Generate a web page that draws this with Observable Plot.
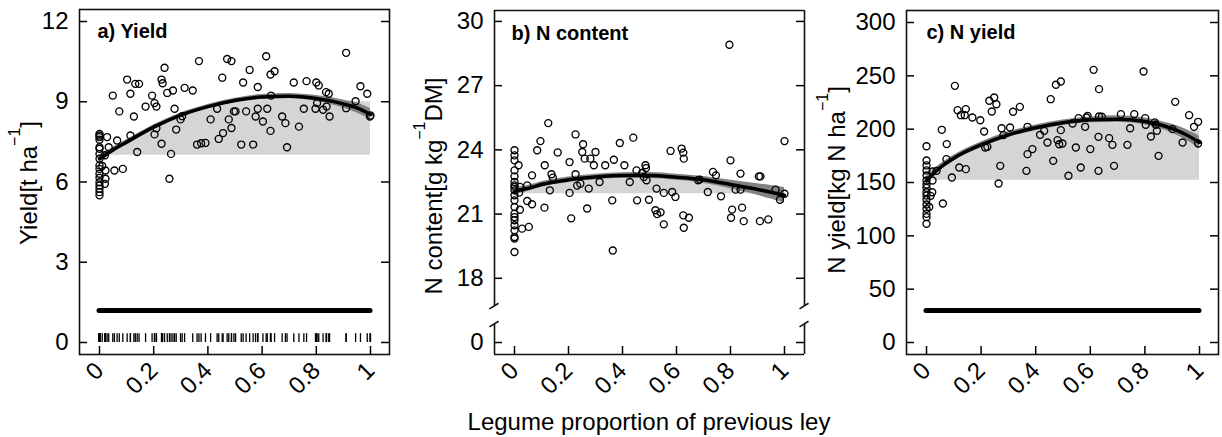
<!DOCTYPE html>
<html><head><meta charset="utf-8">
<script src="https://cdn.jsdelivr.net/npm/d3@7"></script>
<script src="https://cdn.jsdelivr.net/npm/@observablehq/plot@0.6"></script>
<style>
body{margin:0;background:#fff;}
#wrap{position:relative;width:1222px;height:437px;overflow:hidden;font-family:"Liberation Sans",Arial,Helvetica,sans-serif;background:#fff;}
.panel{position:absolute;top:0;}
#xtitle{position:absolute;left:649px;top:410px;transform:translateX(-50%);font-size:24px;line-height:24px;white-space:nowrap;color:#000;}
</style></head><body>
<div id="wrap"><div id="xtitle">Legume proportion of previous ley</div></div>
<script>
// ---------- data ----------
const xTicks = [0, 0.2, 0.4, 0.6, 0.8, 1];
const xTickLabels = ["0", "0.2", "0.4", "0.6", "0.8", "1"];

const yieldTicks = [0, 3, 6, 9, 12];
const ncTicks = [0, 18, 21, 24, 27, 30];
const nyTicks = [0, 50, 100, 150, 200, 250, 300];

// a) Yield observations
const yieldX = [0,0,0,0,0,0,0,0,0,0,0,0,0,0,0,0,0,
  0.022,0.02,0.028,0.034,0.02,0.022,0.055,0.086,0.065,0.01,
  0.049,0.073,0.102,0.114,0.127,0.114,0.132,0.146,0.139,0.170,
  0.194,0.203,0.210,0.210,0.203,0.229,0.233,0.240,0.250,0.271,
  0.229,0.264,0.258,0.277,0.283,0.299,0.305,0.314,0.344,0.367,
  0.360,0.375,0.391,0.410,0.434,0.440,0.456,0.453,0.471,0.487,
  0.477,0.487,0.496,0.502,0.523,0.530,0.554,0.541,0.567,0.576,
  0.584,0.584,0.603,0.615,0.619,0.631,0.631,0.646,0.633,0.674,
  0.686,0.692,0.717,0.736,0.754,0.764,0.797,0.800,0.809,0.803,
  0.825,0.838,0.836,0.846,0.849,0.910,0.910,0.945,0.963,0.988,
  1.0,0.998];
const yieldY = [7.80,7.74,7.68,7.58,7.30,7.24,7.05,6.87,6.62,6.49,6.31,6.16,5.99,5.87,5.75,5.62,5.50,
  6.12,5.93,7.68,7.30,7.0,6.43,6.43,6.49,7.55,6.6,
  9.23,8.64,9.83,9.30,8.45,7.74,9.67,9.67,7.12,8.82,
  9.23,8.95,8.82,8.01,7.78,9.83,9.69,10.27,9.33,9.42,
  7.43,7.05,6.12,8.74,7.96,8.34,8.46,9.52,9.42,10.52,
  7.40,7.45,7.46,8.34,8.74,7.61,7.83,9.90,10.60,10.52,
  8.34,8.02,8.64,8.64,7.40,9.72,10.19,8.64,7.40,8.45,
  8.74,9.55,8.26,10.70,8.74,7.91,10.02,10.14,9.23,8.45,
  8.20,7.30,9.72,8.07,8.74,9.77,8.74,9.72,9.61,8.95,
  8.70,8.82,9.36,9.30,8.45,10.83,8.76,9.02,9.58,9.30,
  8.49,8.45];

// b) N content observations
const ncX = [0,0,0,0,0,0,0,0,0,0,0,0,0,0,0,0,0,0,0,0,
  0.015,0.02,0.02,0.047,0.065,0.047,0.065,0.028,0.053,0.017,
  0.084,0.096,0.112,0.111,0.125,0.137,0.142,0.131,0.160,0.204,
  0.204,0.21,0.226,0.226,0.232,0.244,0.254,0.251,0.26,0.281,
  0.294,0.30,0.275,0.269,0.315,0.336,0.362,0.364,0.368,0.39,
  0.407,0.427,0.44,0.454,0.452,0.473,0.479,0.485,0.487,0.489,
  0.498,0.522,0.528,0.526,0.541,0.553,0.553,0.578,0.584,0.596,
  0.619,0.625,0.627,0.625,0.646,0.627,0.68,0.686,0.716,0.735,
  0.746,0.765,0.796,0.80,0.806,0.802,0.819,0.837,0.837,0.843,
  0.849,0.905,0.911,0.909,0.94,0.967,0.983,1.0,1.0];
const ncY = [23.98,23.74,23.51,23.04,22.76,22.50,22.34,22.11,21.88,21.64,21.33,21.02,20.86,20.71,20.48,20.24,19.93,19.86,19.23,22.27,
  23.28,22.27,21.2,22.34,22.81,21.61,21.46,20.32,20.40,22.0,
  23.98,24.41,23.28,21.30,25.25,22.86,22.70,22.11,23.88,23.43,
  21.99,20.80,24.72,22.86,22.33,22.42,24.26,23.90,23.59,23.59,
  23.28,23.90,22.19,21.26,22.50,23.28,21.64,19.30,23.54,24.32,
  23.28,22.50,24.57,21.64,23.04,22.92,22.73,23.28,23.15,22.58,
  21.67,21.18,21.0,22.19,21.08,21.99,20.52,23.95,22.03,21.80,
  24.06,23.87,23.59,20.94,20.83,20.36,22.58,22.61,22.03,22.97,
  22.81,21.83,28.91,23.51,21.21,20.83,22.14,22.14,22.89,21.30,
  20.67,22.76,22.76,20.67,20.75,22.14,21.67,21.95,24.41];

// c) N yield observations
const nyX = [0,0,0,0,0,0,0,0,0,0,0,0,0,0,0,0,
  0.021,0.022,0.022,0.037,0.06,0.015,0.01,
  0.056,0.074,0.073,0.093,0.104,0.114,0.126,0.14,0.144,0.12,
  0.144,0.168,0.197,0.211,0.215,0.223,0.23,0.239,0.248,0.256,
  0.27,0.264,0.275,0.282,0.306,0.317,0.342,0.37,0.366,0.37,
  0.388,0.416,0.431,0.443,0.455,0.464,0.474,0.492,0.48,0.486,
  0.492,0.498,0.52,0.535,0.547,0.557,0.565,0.581,0.586,0.59,
  0.612,0.632,0.632,0.63,0.63,0.642,0.6,0.669,0.681,0.687,
  0.712,0.736,0.746,0.761,0.795,0.801,0.803,0.822,0.836,0.84,
  0.844,0.85,0.901,0.911,0.938,0.962,0.98,0.995,0.995];
const nyY = [184.0,170.6,166,161.3,156.6,151.9,148.1,145,140.9,137.8,133.8,129.4,125.3,120.6,117.5,111.3,
  140.9,151.9,160.3,160.9,130.3,137.5,127,
  199.4,186,171.9,154.7,240.6,217.8,213.1,213.1,218.8,164.1,
  162.5,210.9,208.4,197.8,182.8,183.4,226.6,216.6,229.7,223.4,
  165.6,149.1,200.9,194.4,201.6,216.3,220.9,202.2,160.9,176.6,
  181.3,194.7,198.4,187.5,228.1,170.3,241.6,244.7,189.7,185.9,
  199.1,186.6,156.3,205.3,182.8,210.3,164.1,202.2,210.9,212.5,
  255.6,237.5,211.9,192.8,160.9,211.6,181.3,191.6,185.3,165.6,
  214.1,185.3,200.9,214.1,254.1,210.3,204.1,193.1,206.3,204.1,
  198.4,175,200,225.6,187.5,213.1,202.2,206.9,186.6];

// fitted curves and confidence bands
const fitX = [0, 0.02, 0.05, 0.1, 0.2, 0.3, 0.4, 0.5, 0.6, 0.7, 0.8, 0.9, 0.95, 1];
const yieldFit = [6.87, 7.0, 7.2, 7.49, 8.05, 8.5, 8.82, 9.05, 9.18, 9.21, 9.12, 8.92, 8.77, 8.52];
const yieldLo  = [6.72, 6.88, 7.1, 7.4, 7.97, 8.42, 8.74, 8.97, 9.09, 9.12, 9.01, 8.77, 8.58, 8.34];
const yieldHi  = [7.02, 7.12, 7.3, 7.58, 8.13, 8.58, 8.9, 9.13, 9.27, 9.31, 9.23, 9.07, 8.96, 8.74];
const ncFit = [22.05, 22.12, 22.2, 22.38, 22.6, 22.73, 22.8, 22.8, 22.72, 22.6, 22.38, 22.15, 22.02, 21.88];
const ncLo  = [21.88, 21.96, 22.06, 22.25, 22.47, 22.6, 22.67, 22.66, 22.58, 22.44, 22.18, 21.88, 21.7, 21.52];
const ncHi  = [22.22, 22.28, 22.34, 22.51, 22.73, 22.86, 22.93, 22.94, 22.86, 22.76, 22.58, 22.42, 22.34, 22.24];
const nyFit = [151.6, 157, 164, 172.8, 185.3, 194.7, 201.3, 206, 208.8, 209.4, 207.2, 200.5, 195, 187.5];
const nyLo  = [147.5, 153.5, 161, 170, 182.5, 192, 198.5, 203.5, 206, 206.5, 204, 196.5, 190, 181.5];
const nyHi  = [155.5, 160.5, 167, 175.5, 188, 197.5, 204, 208.5, 211.5, 212.5, 210.5, 204.5, 200, 193.5];

// light-grey regions
const yieldShadeX = [0.01, 0.02, 0.05, 0.1, 0.2, 0.3, 0.4, 0.5, 0.6, 0.7, 0.8, 0.9, 0.95, 1];
const yieldShadeTop = [7.0, 7.02, 7.15, 7.42, 7.98, 8.43, 8.75, 8.98, 9.1, 9.12, 9.05, 9.0, 9.0, 9.0];
const yieldShadeBase = 7.0;
const ncShadeX = [0.03, 0.1, 0.2, 0.3, 0.4, 0.5, 0.6, 0.7, 0.8, 0.9, 0.95];
const ncShadeTop = [22.05, 22.27, 22.48, 22.61, 22.68, 22.67, 22.6, 22.46, 22.22, 22.05, 21.98];
const ncShadeBase = 21.95;
const nyShadeX = [0.02, 0.05, 0.1, 0.2, 0.3, 0.4, 0.5, 0.6, 0.7, 0.8, 0.9, 0.95, 1];
const nyShadeTop = [152, 161, 170.5, 183, 192.5, 199, 204, 206.5, 207, 204.5, 200, 198, 198];
const nyShadeBase = 152;

// thick horizontal bars
const yieldBar = [1.2];
const nyBar = [30];
const rugTop = 0.33;

// ---------- drawing ----------
const H = 437;
const FONT = "Liberation Sans, Arial, Helvetica, sans-serif";

function makePanel(o) {
  const pts = o.xs.map((x, i) => ({x, y: o.ys[i]}));
  const fit = fitX.map((x, i) => ({x, y: o.fit[i], lo: o.lo[i], hi: o.hi[i]}));
  const shade = o.shadeX.map((x, i) => ({x, y: o.shadeTop[i]}));
  const fw = o.width - o.ml - o.mr, fh = H - o.mt - o.mb;
  const [x0, x1] = o.xDomain;
  const [yb, yt] = o.yDomain;
  const marks = [
    Plot.areaY(shade, {x: "x", y1: o.shadeBase, y2: "y", fill: "#d5d5d5", curve: "monotone-x"}),
    Plot.areaY(fit, {x: "x", y1: "lo", y2: "hi", fill: "#828282", curve: "monotone-x"}),
    Plot.dot(pts, {x: "x", y: "y", r: 3.5, stroke: "black", strokeWidth: 1.35, fill: "none"}),
    Plot.line(fit, {x: "x", y: "y", stroke: "black", strokeWidth: 3.5, curve: "monotone-x"})
  ];
  if (o.bar) marks.push(Plot.ruleY(o.bar, {x1: 0, x2: 1, stroke: "black", strokeWidth: 5, strokeLinecap: "round"}));
  if (o.rug) marks.push(Plot.ruleX(o.xs, {x: d => d, y1: 0, y2: o.rug, stroke: "black", strokeWidth: 1.3}));
  // inward ticks
  marks.push(
    Plot.tickY(o.yTicks, {y: d => d, insetRight: fw - 8, stroke: "black", strokeWidth: 1.5}),
    Plot.tickY(o.yTicks, {y: d => d, insetLeft: fw - 8, stroke: "black", strokeWidth: 1.5}),
    Plot.tickX(xTicks, {x: d => d, insetTop: fh - 8, stroke: "black", strokeWidth: 1.5})
  );
  // frame
  if (o.breaks) {
    const fs = {stroke: "#111", strokeWidth: 1.6};
    marks.push(
      Plot.ruleY([yt], {y: d => d, x1: x0, x2: x1, ...fs}),
      Plot.ruleY([yb], {y: d => d, x1: x0, x2: x1, ...fs}),
      Plot.ruleX([x0, x1], {x: d => d, y1: yb, y2: o.breaks[0], ...fs}),
      Plot.ruleX([x0, x1], {x: d => d, y1: o.breaks[1], y2: yt, ...fs})
    );
  } else {
    marks.push(Plot.frame({stroke: "#111", strokeWidth: 1.6}));
  }
  // tick labels
  marks.push(
    Plot.text(o.yTicks, {y: d => d, text: d => String(d), frameAnchor: "left", dx: -11, textAnchor: "end", fontSize: 24, fill: "black"}),
    Plot.text(xTicks, {x: d => d, text: (d, i) => xTickLabels[i], frameAnchor: "bottom", dx: 0, dy: 12, rotate: -45, textAnchor: "end", lineAnchor: "middle", fontSize: 24, fill: "black"}),
    Plot.text([o.title], {text: d => d, frameAnchor: "top-left", dx: o.tdx, dy: o.tdy, textAnchor: "start", lineAnchor: "middle", fontWeight: "bold", fontSize: 20, fill: "black"})
  );
  const yOpts = {domain: o.yDomain, axis: null};
  if (o.yTransform) yOpts.transform = o.yTransform;
  const chart = Plot.plot({
    width: o.width, height: H,
    marginLeft: o.ml, marginRight: o.mr, marginTop: o.mt, marginBottom: o.mb,
    x: {domain: o.xDomain, axis: null},
    y: yOpts,
    marks,
    style: {fontFamily: FONT, background: "transparent", overflow: "visible", color: "black"}
  });
  const svg = d3.select(chart);
  // axis break marks
  if (o.breaks) {
    const sx = chart.scale("x"), sy = chart.scale("y");
    for (const xv of [x0, x1]) for (const yv of o.breaks) {
      const px = sx.apply(xv), py = sy.apply(yv);
      svg.append("line").attr("x1", px - 4.5).attr("y1", py + 2.8).attr("x2", px + 4.5).attr("y2", py - 2.8)
        .attr("stroke", "#111").attr("stroke-width", 1.6);
    }
  }
  // y axis title with superscript
  const t = svg.append("text")
    .attr("transform", `translate(${o.ltx},${o.lty}) rotate(-90)`)
    .attr("text-anchor", "middle").attr("font-size", 24).attr("fill", "black")
    .attr("font-family", FONT);
  t.append("tspan").text(o.label[0]);
  t.append("tspan").attr("font-size", 16).attr("dy", -17).text(o.label[1]);
  t.append("tspan").attr("dy", 17).text(o.label[2]);
  const holder = document.createElement("div");
  holder.className = "panel";
  holder.style.left = o.left + "px";
  holder.appendChild(chart);
  document.getElementById("wrap").appendChild(holder);
}

makePanel({
  left: 0, width: 400, ml: 79, mr: 11, mt: 9, mb: 83,
  xDomain: [-0.0738, 1.0701], yDomain: [-0.449, 12.449],
  xs: yieldX, ys: yieldY, fit: yieldFit, lo: yieldLo, hi: yieldHi,
  shadeX: yieldShadeX, shadeTop: yieldShadeTop, shadeBase: yieldShadeBase,
  bar: yieldBar, rug: rugTop, yTicks: yieldTicks,
  title: "a) Yield", tdx: 18, tdy: 22,
  label: ["Yield[t ha", "\u22121", "]"], ltx: 37, lty: 183
});
// panel b: broken y axis – values below the break (the 0 tick) are shifted up by 15 units
makePanel({
  left: 400, width: 412, ml: 94, mr: 8, mt: 10, mb: 83,
  xDomain: [-0.0741, 1.0741], yDomain: [14.44, 30.51],
  yTransform: v => (v < 10 ? v + 15 : v),
  breaks: [15.84, 16.68],
  xs: ncX, ys: ncY, fit: ncFit, lo: ncLo, hi: ncHi,
  shadeX: ncShadeX, shadeTop: ncShadeTop, shadeBase: ncShadeBase,
  yTicks: ncTicks,
  title: "b) N content", tdx: 17, tdy: 23.5,
  label: ["N content[g kg", "\u22121", "DM]"], ltx: 42, lty: 186
});
makePanel({
  left: 812, width: 410, ml: 94, mr: 4, mt: 10, mb: 83,
  xDomain: [-0.0733, 1.0696], yDomain: [-11.25, 311.25],
  xs: nyX, ys: nyY, fit: nyFit, lo: nyLo, hi: nyHi,
  shadeX: nyShadeX, shadeTop: nyShadeTop, shadeBase: nyShadeBase,
  bar: nyBar, yTicks: nyTicks,
  title: "c) N yield", tdx: 20, tdy: 22,
  label: ["N yield[kg N ha", "\u22121", "]"], ltx: 33, lty: 180
});
</script>
</body></html>
